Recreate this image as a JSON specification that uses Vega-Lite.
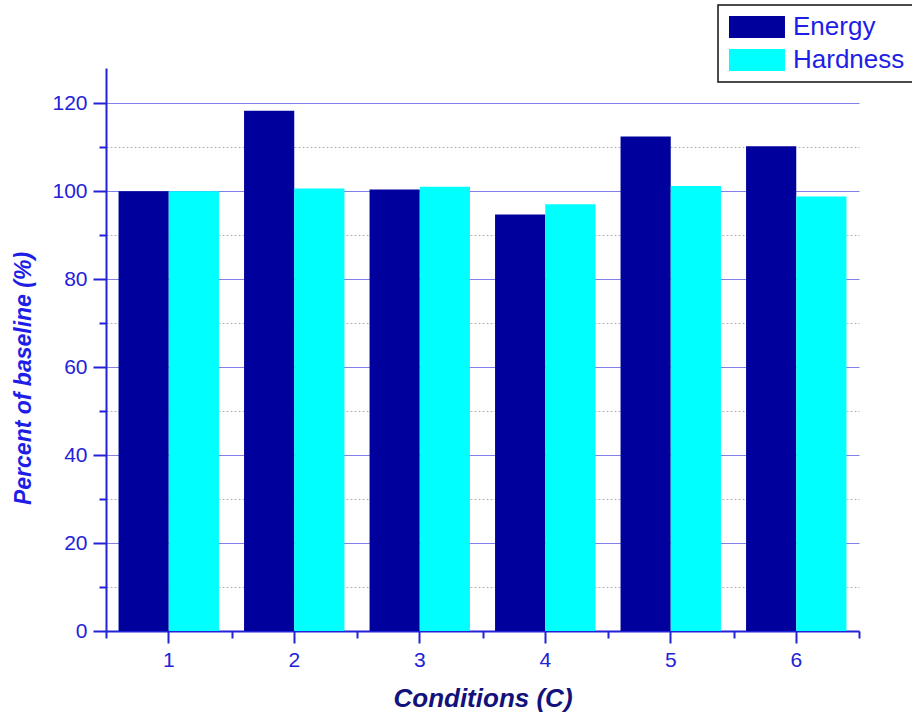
{
  "$schema": "https://vega.github.io/schema/vega-lite/v6.json",
  "autosize": "none",
  "width": 753,
  "height": 563,
  "padding": {"left": 106, "top": 68, "right": 53, "bottom": 84},
  "background": "white",
  "data": {
    "values": [
      {"condition": "1", "series": "Energy", "value": 100.0},
      {"condition": "1", "series": "Hardness", "value": 100.0},
      {"condition": "2", "series": "Energy", "value": 118.3},
      {"condition": "2", "series": "Hardness", "value": 100.6},
      {"condition": "3", "series": "Energy", "value": 100.4},
      {"condition": "3", "series": "Hardness", "value": 101.0},
      {"condition": "4", "series": "Energy", "value": 94.7},
      {"condition": "4", "series": "Hardness", "value": 97.0},
      {"condition": "5", "series": "Energy", "value": 112.4},
      {"condition": "5", "series": "Hardness", "value": 101.2},
      {"condition": "6", "series": "Energy", "value": 110.2},
      {"condition": "6", "series": "Hardness", "value": 98.8}
    ]
  },
  "layer": [
    {
      "mark": {"type": "bar", "opacity": 0},
      "encoding": {
        "x": {
          "field": "condition",
          "type": "nominal",
          "sort": ["1", "2", "3", "4", "5", "6"],
          "scale": {"paddingInner": 0, "paddingOuter": 0},
          "axis": {
            "orient": "bottom",
            "title": null,
            "labels": false,
            "domain": false,
            "grid": false,
            "tickBand": "extent",
            "tickSize": 7,
            "tickWidth": 2,
            "tickColor": "#2222d8"
          }
        }
      }
    },
    {
      "mark": {"type": "bar"},
      "encoding": {
        "x": {
          "field": "condition",
          "type": "nominal",
          "sort": ["1", "2", "3", "4", "5", "6"],
          "scale": {"paddingInner": 0.2, "paddingOuter": 0.1},
          "axis": {
            "orient": "bottom",
            "title": "Conditions (C)",
            "labelAngle": 0,
            "labelFont": "Liberation Sans",
            "labelFontSize": 21,
            "labelColor": "#2222d8",
            "labelPadding": 6,
            "tickSize": 12,
            "tickWidth": 2,
            "tickColor": "#2222d8",
            "domainColor": "#2222d8",
            "domainWidth": 2,
            "grid": false,
            "titleFont": "Liberation Sans",
            "titleFontSize": 26,
            "titleFontWeight": "bold",
            "titleFontStyle": "italic",
            "titleColor": "#12127a",
            "titleBaseline": "alphabetic",
            "titleY": 75
          }
        },
        "xOffset": {
          "field": "series",
          "type": "nominal",
          "scale": {"domain": ["Energy", "Hardness"], "paddingInner": 0, "paddingOuter": 0}
        },
        "y": {
          "field": "value",
          "type": "quantitative",
          "scale": {"domain": [0, 128], "nice": false},
          "axis": {
            "title": "Percent of baseline (%)",
            "values": [0, 10, 20, 30, 40, 50, 60, 70, 80, 90, 100, 110, 120],
            "labelExpr": "datum.value % 20 === 0 ? datum.label : ''",
            "labelFont": "Liberation Sans",
            "labelFontSize": 21,
            "labelColor": "#2222d8",
            "labelPadding": 6,
            "tickSize": {"condition": {"test": "datum.value % 20 !== 0", "value": 7}, "value": 13},
            "tickWidth": 2,
            "tickColor": "#2222d8",
            "domainColor": "#2222d8",
            "domainWidth": 2,
            "grid": true,
            "gridColor": {"condition": {"test": "datum.value % 20 !== 0", "value": "#b4b4b4"}, "value": "#8080e8"},
            "gridDash": {"condition": {"test": "datum.value % 20 !== 0", "value": [2, 2]}, "value": []},
            "gridWidth": 1.2,
            "titleFont": "Liberation Sans",
            "titleFontSize": 23,
            "titleFontWeight": "bold",
            "titleFontStyle": "italic",
            "titleColor": "#1e1ee6",
            "titleX": -83,
            "titleY": 310,
            "titleAngle": -90,
            "titleAlign": "center",
            "titleBaseline": "middle"
          }
        },
        "color": {
          "field": "series",
          "type": "nominal",
          "scale": {"domain": ["Energy", "Hardness"], "range": ["#00009c", "#00ffff"]},
          "legend": {
            "title": null,
            "orient": "none",
            "legendX": 612,
            "legendY": -63,
            "direction": "vertical",
            "fillColor": "white",
            "strokeColor": "#111111",
            "padding": 9,
            "rowPadding": 7,
            "symbolType": "M-1,-1H4.09V1H-1Z",
            "symbolSize": 484,
            "symbolStrokeWidth": 0,
            "symbolOpacity": 1,
            "labelOffset": 40,
            "labelFont": "Liberation Sans",
            "labelFontSize": 26,
            "labelColor": "#1e1ee6",
            "labelLimit": 300
          }
        }
      }
    }
  ],
  "resolve": {"scale": {"x": "independent"}, "axis": {"x": "independent"}},
  "config": {
    "view": {"stroke": null},
    "legend": {"strokeWidth": 1.5}
  }
}
